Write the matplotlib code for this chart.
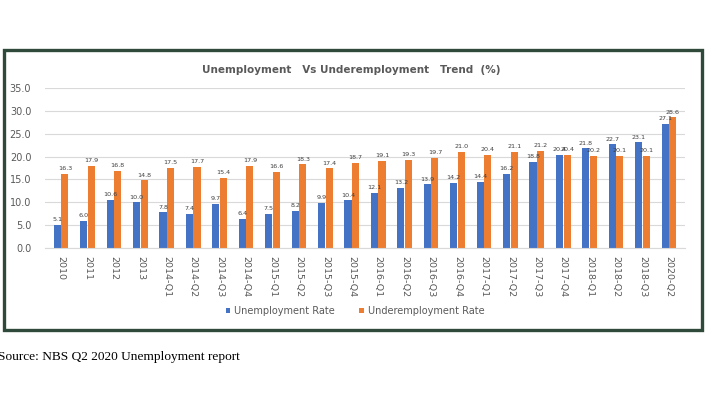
import numpy as np
import matplotlib
matplotlib.use("Agg")
import matplotlib.pyplot as plt
from matplotlib.patches import Rectangle

periods = ["2010", "2011", "2012", "2013",
           "2014-Q1", "2014-Q2", "2014-Q3", "2014-Q4",
           "2015-Q1", "2015-Q2", "2015-Q3", "2015-Q4",
           "2016-Q1", "2016-Q2", "2016-Q3", "2016-Q4",
           "2017-Q1", "2017-Q2", "2017-Q3", "2017-Q4",
           "2018-Q1", "2018-Q2", "2018-Q3", "2020-Q2"]
unemployment = [5.1, 6.0, 10.6, 10.0, 7.8, 7.4, 9.7, 6.4, 7.5, 8.2, 9.9, 10.4,
                12.1, 13.2, 13.9, 14.2, 14.4, 16.2, 18.8, 20.4, 21.8, 22.7, 23.1, 27.1]
underemployment = [16.3, 17.9, 16.8, 14.8, 17.5, 17.7, 15.4, 17.9, 16.6, 18.3, 17.4, 18.7,
                   19.1, 19.3, 19.7, 21.0, 20.4, 21.1, 21.2, 20.4, 20.2, 20.1, 20.1, 28.6]

blue = "#4472C4"
orange = "#ED7D31"
grey = "#595959"

fig = plt.figure(figsize=(7.06, 4.01), dpi=100)
ax = fig.add_axes([0.064, 0.3815, 0.906, 0.399])

x = np.arange(len(periods))
w = 0.27
b1 = ax.bar(x - w / 2 - 0.01, unemployment, w, color=blue, label="Unemployment Rate")
b2 = ax.bar(x + w / 2 + 0.01, underemployment, w, color=orange, label="Underemployment Rate")

# value labels; where both values are equal the labels sit on top of each other
for rect, v in zip(b1, unemployment):
    ax.text(rect.get_x() + rect.get_width() / 2, v + 0.6, f"{v:.1f}",
            ha="center", va="bottom", fontsize=4.6, color="#404040")
for rect, v in zip(b2, underemployment):
    ax.text(rect.get_x() + rect.get_width() / 2, v + 0.6, f"{v:.1f}",
            ha="center", va="bottom", fontsize=4.6, color="#404040")

ax.set_ylim(0, 35)
ax.set_xlim(-0.6, len(periods) - 0.4)
ax.set_yticks(np.arange(0, 36, 5))
ax.set_yticklabels([f"{t:.1f}" for t in np.arange(0, 36, 5)])
ax.set_xticks(x)
ax.set_xticklabels(periods, rotation=270)
ax.tick_params(axis="both", length=0, labelsize=7, colors=grey)
ax.tick_params(axis="x", labelsize=6.8, pad=6)
ax.tick_params(axis="y", pad=10)
ax.grid(axis="y", color="#d9d9d9", linewidth=0.8)
ax.set_axisbelow(True)
for s in ["top", "right", "left"]:
    ax.spines[s].set_visible(False)
ax.spines["bottom"].set_color("#d9d9d9")

fig.text(0.497, 0.825, "Unemployment   Vs Underemployment   Trend  (%)",
         ha="center", va="center", fontsize=7.5, fontweight="bold", color=grey)

fig.legend(handles=[b1, b2], loc="center", bbox_to_anchor=(0.503, 0.224), ncol=2,
           frameon=False, fontsize=7, handlelength=0.5, handleheight=0.5,
           columnspacing=2.5, handletextpad=0.4, labelcolor=grey)

border = Rectangle((4 / 706, 1 - 330 / 401), 698 / 706, 280 / 401, transform=fig.transFigure,
                   fill=False, edgecolor="#2f4a3a", linewidth=2.4)
fig.patches.append(border)

fig.text(-0.003, 1 - 357 / 401, "Source: NBS Q2 2020 Unemployment report",
         ha="left", va="center", fontsize=9.6, family="Liberation Serif", color="black")

fig.savefig("out.png", dpi=100)
